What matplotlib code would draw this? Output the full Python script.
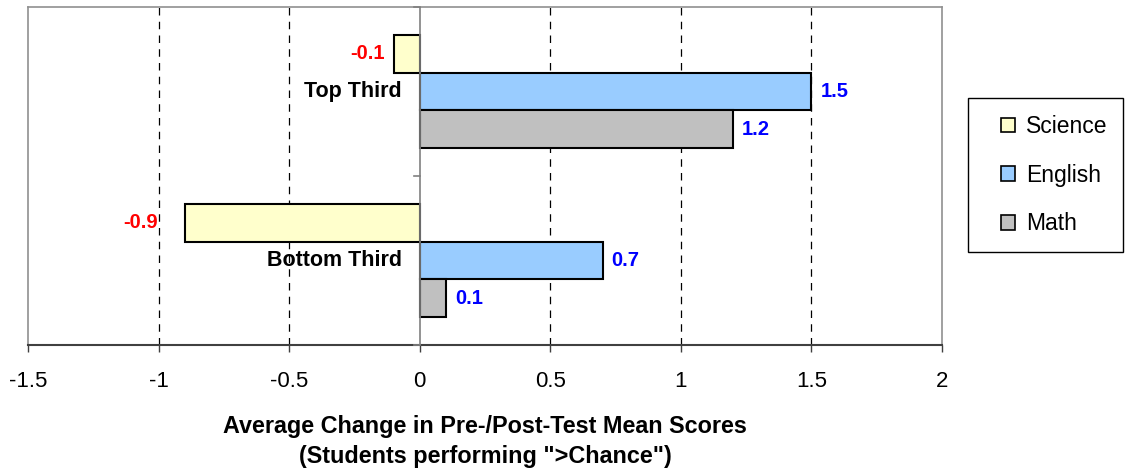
import matplotlib
matplotlib.use("Agg")
import matplotlib.pyplot as plt
from matplotlib.patches import Patch, Rectangle
import numpy as np

plt.rcParams['font.family'] = ['Liberation Sans', 'DejaVu Sans']

groups = ["Bottom Third", "Top Third"]
series = ["Science", "English", "Math"]
science = [-0.9, -0.1]
english = [0.7, 1.5]
math_ = [0.1, 1.2]
xticks = [-1.5, -1, -0.5, 0, 0.5, 1, 1.5, 2]
xtick_labels = ["-1.5", "-1", "-0.5", "0", "0.5", "1", "1.5", "2"]
xlabel_lines = ["Average Change in Pre-/Post-Test Mean Scores",
                "(Students performing \">Chance\")"]

colors = {"Science": "#FFFFCC", "English": "#99CCFF", "Math": "#C0C0C0"}
values = {"Science": science, "English": english, "Math": math_}
# label gap (points) from bar end; the bottom-third Science label sits further out
label_gap = {("Science", 0): 19}

W, H = 1135, 475
fig = plt.figure(figsize=(W/100, H/100), dpi=100)
ax = fig.add_axes([28/W, 130/H, (942-28)/W, (345-7)/H])

h = 37.5/168
offsets = {"Science": h, "English": 0.0, "Math": -h}
ypos = np.arange(len(groups))
for s in series:
    ax.barh(ypos + offsets[s], values[s], height=h, color=colors[s],
            edgecolor="black", linewidth=1.5, zorder=3)
    for i, (y, v) in enumerate(zip(ypos + offsets[s], values[s])):
        gap = label_gap.get((s, i), 6.5)
        if v < 0:
            ax.annotate(f"{v:g}", (v, y), xytext=(-gap, 0), textcoords="offset points",
                        ha="right", va="center", color="#FF0000",
                        fontsize=14.5, fontweight="bold", zorder=6)
        else:
            ax.annotate(f"{v:g}", (v, y), xytext=(gap, 0), textcoords="offset points",
                        ha="left", va="center", color="#0000FF",
                        fontsize=14.5, fontweight="bold", zorder=6)

for y, g in zip(ypos, groups):
    ax.annotate(g, (0, y), xytext=(-13, 0), textcoords="offset points",
                ha="right", va="center", color="black", fontsize=15.5,
                fontweight="bold", zorder=6)

ax.set_xlim(-1.5, 2)
ax.set_ylim(-0.5, 1.5)
ax.set_xticks(xticks)
ax.set_xticklabels(xtick_labels, fontsize=16)
ax.set_yticks([])
for x in xticks[1:-1]:
    if x != 0:
        ax.axvline(x, color="black", linestyle=(0, (6, 5)), linewidth=0.9, zorder=1)
ax.axvline(0, color="#808080", linewidth=1.2, zorder=4)
for yb in [-0.5, 0.5, 1.5]:
    ax.plot([-0.02, 0], [yb, yb], color="#808080", linewidth=1.2, zorder=4, clip_on=False)

for side in ["top", "left", "right"]:
    ax.spines[side].set_color("#909090")
    ax.spines[side].set_linewidth(1.2)
ax.spines["bottom"].set_color("#404040")
ax.spines["bottom"].set_linewidth(1.5)
ax.tick_params(axis="x", direction="out", length=5, width=1, color="#404040", pad=14)

fig.text(485/W, 1-426/H, xlabel_lines[0], ha="center", va="center",
         fontsize=16.8, fontweight="bold")
fig.text(485/W, 1-456/H, xlabel_lines[1], ha="center", va="center",
         fontsize=16.8, fontweight="bold")

# legend frame
fig.patches.append(Rectangle((968/W, 1-252/H), (1123-968)/W, (252-98)/H,
                             transform=fig.transFigure, facecolor="white",
                             edgecolor="black", linewidth=1.0, zorder=0))
handles = [Patch(facecolor=colors[s], edgecolor="black", linewidth=1.2, label=s) for s in series]
leg = fig.legend(handles=handles, loc="upper left", bbox_to_anchor=(1001/W, 1-115/H),
                 fontsize=16.5, frameon=False,
                 handlelength=0.6, handleheight=0.6, handletextpad=0.5,
                 labelspacing=1.12, borderpad=0, borderaxespad=0)

fig.savefig("out.png", dpi=100)
